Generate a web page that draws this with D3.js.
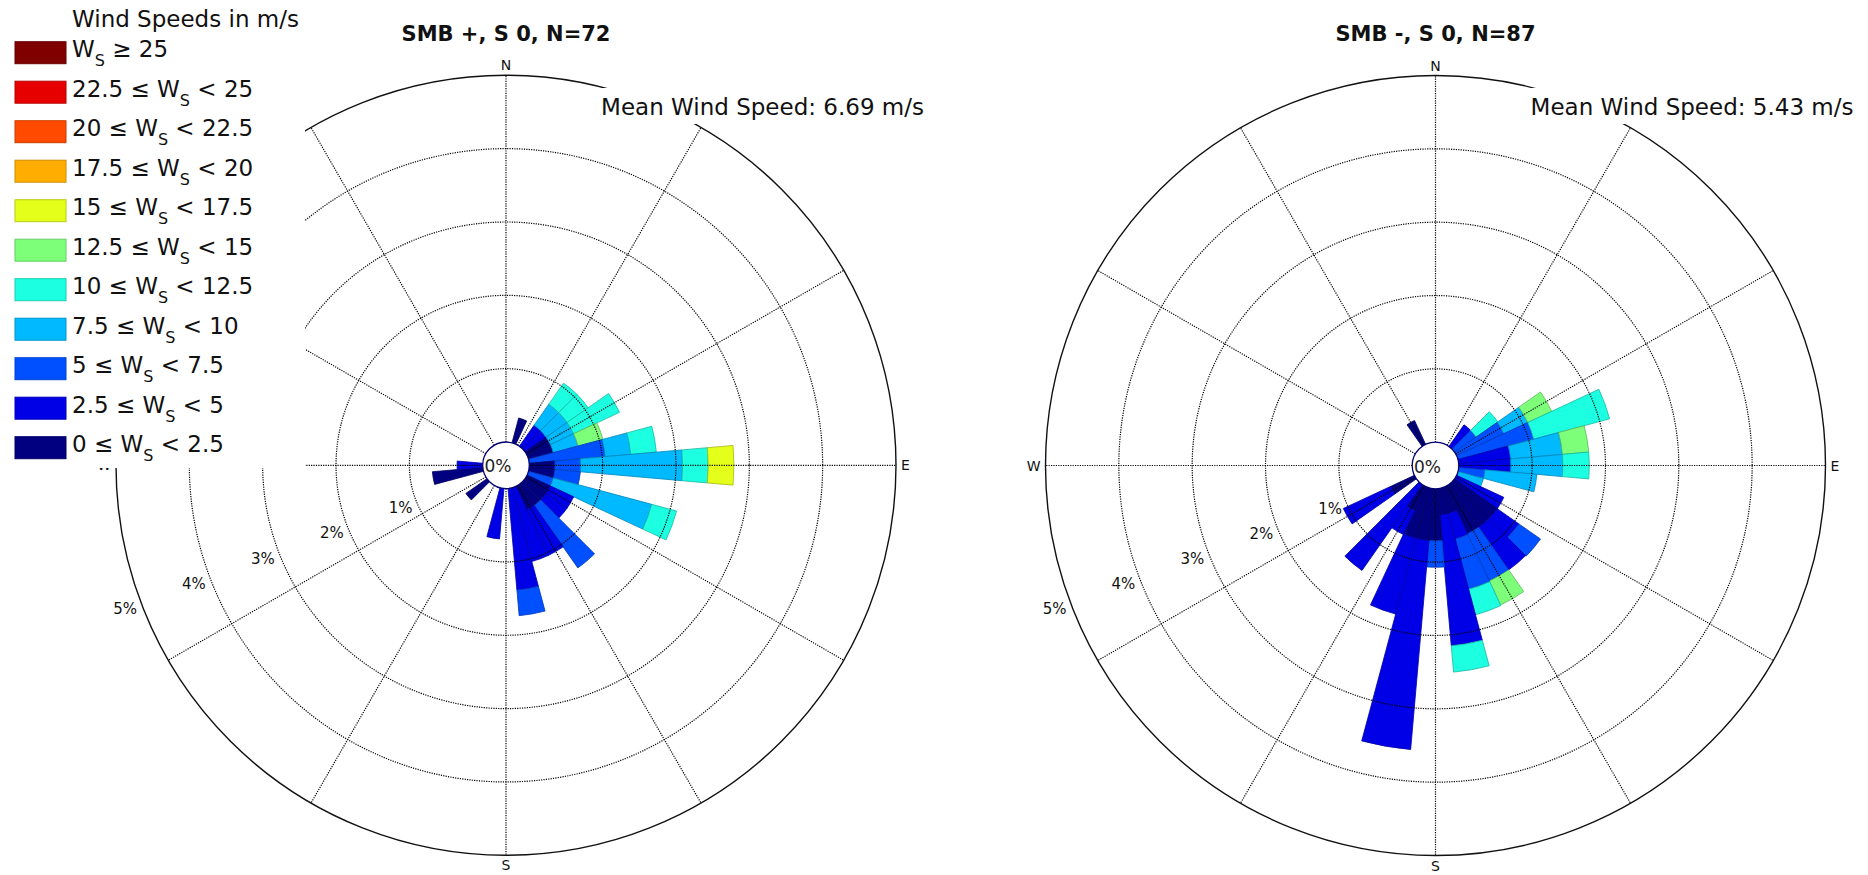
<!DOCTYPE html>
<html>
<head>
<meta charset="utf-8">
<script src="https://cdn.jsdelivr.net/npm/d3@7"></script>
<style>
  body { margin: 0; background: #fff; }
  svg { display: block; font-family: "DejaVu Sans", sans-serif; }
</style>
</head>
<body>
<svg id="chart" width="1868" height="875"></svg>
<script>
// ---- Direction bins: 10° sectors, clockwise from north ----
const directions = d3.range(0, 360, 10);

// ---- Wind speed classes (m/s) and their colours ----
const speedBounds = [0, 2.5, 5, 7.5, 10, 12.5, 15, 17.5, 20, 22.5, 25];
const speedColors = ["#000080", "#0000e6", "#0050ff", "#00b9ff", "#1cffe1",
                     "#7dff7a", "#e4ff1a", "#ffae00", "#ff4a00", "#e60000", "#800000"];

// ---- Radial axis ticks (% of observations) and compass labels ----
const radialTicks = [1, 2, 3, 4, 5];
const compassLabels = ["N", "E", "S", "W"];

// ---- SMB +, S 0 (N=72): frequency (%) per direction bin, one array per speed class ----
const plus_0_25   = [0,0,0.35,0,0,0,0.35,0.35,0,0.35, 0.35,0,0.35,0.35,0.35,0.35,0,0,0,0, 0,0,0,0.35,0,0,0.69,0,0,0, 0,0,0,0,0,0];
const plus_25_5   = [0,0,0,0,0.35,0.35,0,0,0,0, 0,0,0.35,0.35,0,0.69,1.04,1.39,0,0.69, 0,0,0,0,0,0,0,0.35,0,0, 0,0,0,0,0,0];
const plus_5_75   = [0,0,0,0,0,0,0,0,1.04,0.35, 0.35,0.35,0,0,1.04,0,0,0.35,0,0, 0,0,0,0,0,0,0,0,0,0, 0,0,0,0,0,0];
const plus_75_10  = [0,0,0,0,0.35,0.35,0.35,0.35,0.35,1.39, 0,1.39,0,0,0,0,0,0,0,0, 0,0,0,0,0,0,0,0,0,0, 0,0,0,0,0,0];
const plus_10_125 = [0,0,0,0,0.35,0.35,0.69,0,0.35,0.35, 0,0.35,0,0,0,0,0,0,0,0, 0,0,0,0,0,0,0,0,0,0, 0,0,0,0,0,0];
const plus_125_15 = [0,0,0,0,0,0,0,0.35,0,0, 0,0,0,0,0,0,0,0,0,0, 0,0,0,0,0,0,0,0,0,0, 0,0,0,0,0,0];
const plus_15_175 = [0,0,0,0,0,0,0,0,0,0.35, 0,0,0,0,0,0,0,0,0,0, 0,0,0,0,0,0,0,0,0,0, 0,0,0,0,0,0];
const plusSeries = [plus_0_25, plus_25_5, plus_5_75, plus_75_10, plus_10_125, plus_125_15, plus_15_175];

// ---- SMB -, S 0 (N=87) ----
const minus_0_25   = [0,0,0,0,0,0,0,0,0,0, 0,0,0,0.71,0.71,0.71,0.36,0.36,0.71,0.71, 0.71,0.36,0,0,0.36,0,0,0,0,0, 0,0,0,0.36,0,0];
const minus_25_5   = [0,0,0,0,0.36,0,0,0,0.71,0.71, 0,0,0.71,0.36,0.71,0,0.36,1.79,0,2.86, 1.07,0.36,1.43,0,0.71,0,0,0,0,0, 0,0,0,0,0,0];
const minus_5_75   = [0,0,0,0,0,0.36,0.71,1.07,0,0, 0.36,0,0,0.36,0,0.71,0.71,0,0.36,0, 0,0,0,0,0,0,0,0,0,0, 0,0,0,0,0,0];
const minus_75_10  = [0,0,0,0,0,0,0.36,0,0.71,0.71, 0.71,0.36,0,0,0,0,0,0,0,0, 0,0,0,0,0,0,0,0,0,0, 0,0,0,0,0,0];
const minus_10_125 = [0,0,0,0,0,0.36,0,1.07,0,0.36, 0,0,0,0,0,0,0.36,0.36,0,0, 0,0,0,0,0,0,0,0,0,0, 0,0,0,0,0,0];
const minus_125_15 = [0,0,0,0,0,0,0.36,0,0.36,0, 0,0,0,0,0,0.36,0,0,0,0, 0,0,0,0,0,0,0,0,0,0, 0,0,0,0,0,0];
const minus_15_175 = [0,0,0,0,0,0,0,0,0,0, 0,0,0,0,0,0,0,0,0,0, 0,0,0,0,0,0,0,0,0,0, 0,0,0,0,0,0];
const minusSeries = [minus_0_25, minus_25_5, minus_5_75, minus_75_10, minus_10_125, minus_125_15, minus_15_175];

const roses = [
  { title: "SMB +, S 0, N=72", mean: "Mean Wind Speed: 6.69 m/s", cx: 506,    cy: 465.3, series: plusSeries },
  { title: "SMB -, S 0, N=87", mean: "Mean Wind Speed: 5.43 m/s", cx: 1435.5, cy: 465.5, series: minusSeries }
];

const svg = d3.select("#chart");
const rHole = 23.3, rOuter = 390;
const rScale = d3.scaleLinear().domain([0, 5]).range([rHole, rOuter]);
const halfBin = 5 * Math.PI / 180;
const rad = d => d * Math.PI / 180;
const arc = d3.arc();

roses.forEach(rose => {
  const g = svg.append("g").attr("transform", `translate(${rose.cx},${rose.cy})`);

  // stacked sectors per direction
  const segs = [];
  directions.forEach((dir, i) => {
    let cum = 0;
    rose.series.forEach((vals, k) => {
      const v = vals[i];
      if (v > 0) {
        segs.push({ dir, k, r0: cum, r1: cum + v });
        cum += v;
      }
    });
  });
  g.append("g").selectAll("path").data(segs).join("path")
    .attr("d", d => arc({
      innerRadius: rScale(d.r0), outerRadius: rScale(d.r1),
      startAngle: rad(d.dir) - halfBin, endAngle: rad(d.dir) + halfBin
    }))
    .attr("fill", d => speedColors[d.k])
    .attr("stroke", d => d3.color(speedColors[d.k]).darker(0.9))
    .attr("stroke-width", 0.8);

  // dotted grid
  const grid = g.append("g").attr("fill", "none").attr("stroke", "#000")
    .attr("stroke-width", 1.2).attr("stroke-dasharray", "1.2,1.2");
  grid.selectAll("circle").data(radialTicks.filter(t => t < 5)).join("circle")
    .attr("r", d => rScale(d));
  grid.selectAll("line").data(d3.range(0, 360, 30)).join("line")
    .attr("x1", d => rHole * Math.sin(rad(d))).attr("y1", d => -rHole * Math.cos(rad(d)))
    .attr("x2", d => rOuter * Math.sin(rad(d))).attr("y2", d => -rOuter * Math.cos(rad(d)));

  // outer frame
  g.append("circle").attr("r", rOuter).attr("fill", "none")
    .attr("stroke", "#111").attr("stroke-width", 1.4);

  // centre hole
  g.append("circle").attr("r", rHole).attr("fill", "#fff")
    .attr("stroke", "#000070").attr("stroke-width", 1.3);
  g.append("text").attr("x", -8).attr("y", 1).attr("dominant-baseline", "central")
    .attr("text-anchor", "middle").attr("font-size", 17).attr("fill", "#222").text("0%");

  // radial tick labels along the 250° direction
  g.selectAll("text.rt").data(radialTicks).join("text").attr("class", "rt")
    .attr("x", d => rScale(d) * Math.sin(rad(250)) - 14.5)
    .attr("y", d => -rScale(d) * Math.cos(rad(250)) + 10)
    .attr("text-anchor", "middle").attr("dominant-baseline", "central")
    .attr("font-size", 15).attr("fill", "#111").text(d => d + "%");

  // compass labels
  const cpos = {
    N: { x: 0, y: -rOuter - 5, a: "middle" },
    E: { x: rOuter + 5, y: 5, a: "start" },
    S: { x: 0, y: rOuter + 15, a: "middle" },
    W: { x: -rOuter - 5, y: 5, a: "end" }
  };
  g.selectAll("text.cp").data(compassLabels).join("text").attr("class", "cp")
    .attr("x", d => cpos[d].x).attr("y", d => cpos[d].y)
    .attr("text-anchor", d => cpos[d].a).attr("font-size", 14).attr("fill", "#111")
    .text(d => d);

  // title
  g.append("text").attr("x", 0).attr("y", 40.6 - rose.cy).attr("text-anchor", "middle")
    .attr("font-size", 21).attr("font-weight", "bold").attr("fill", "#111").text(rose.title);

  // mean wind speed annotation on a white box
  const mt = g.append("text").attr("x", 418).attr("y", 115 - rose.cy)
    .attr("text-anchor", "end").attr("font-size", 23).attr("fill", "#111").text(rose.mean);
  const bb = mt.node().getBBox();
  g.insert("rect", () => mt.node())
    .attr("x", bb.x - 6).attr("y", bb.y - 6).attr("width", bb.width + 12).attr("height", bb.height + 10)
    .attr("fill", "#fff");
});

// ---- legend ----
const legend = svg.append("g");
legend.append("rect").attr("x", 0).attr("y", 0).attr("width", 305).attr("height", 468).attr("fill", "#fff");
legend.append("text").attr("x", 72).attr("y", 26.6).attr("font-size", 23).attr("fill", "#111")
  .text("Wind Speeds in m/s");

const fmt = v => String(v);
const legendRows = d3.range(speedBounds.length - 1, -1, -1);
legendRows.forEach((k, row) => {
  const top = 41.7 + row * 39.5;
  legend.append("rect").attr("x", 15).attr("y", top).attr("width", 51).attr("height", 22)
    .attr("fill", speedColors[k]).attr("stroke", d3.color(speedColors[k]).darker(0.6)).attr("stroke-width", 1);
  const t = legend.append("text").attr("x", 72).attr("y", top + 15.5).attr("font-size", 23).attr("fill", "#111");
  const lo = speedBounds[k], hi = speedBounds[k + 1];
  if (hi === undefined) {
    t.append("tspan").text("W");
    t.append("tspan").attr("font-size", 16).attr("dy", 9).text("S");
    t.append("tspan").attr("dy", -9).text(" \u2265 " + fmt(lo));
  } else {
    t.append("tspan").text(fmt(lo) + " \u2264 W");
    t.append("tspan").attr("font-size", 16).attr("dy", 9).text("S");
    t.append("tspan").attr("dy", -9).text(" < " + fmt(hi));
  }
});
</script>
</body>
</html>
